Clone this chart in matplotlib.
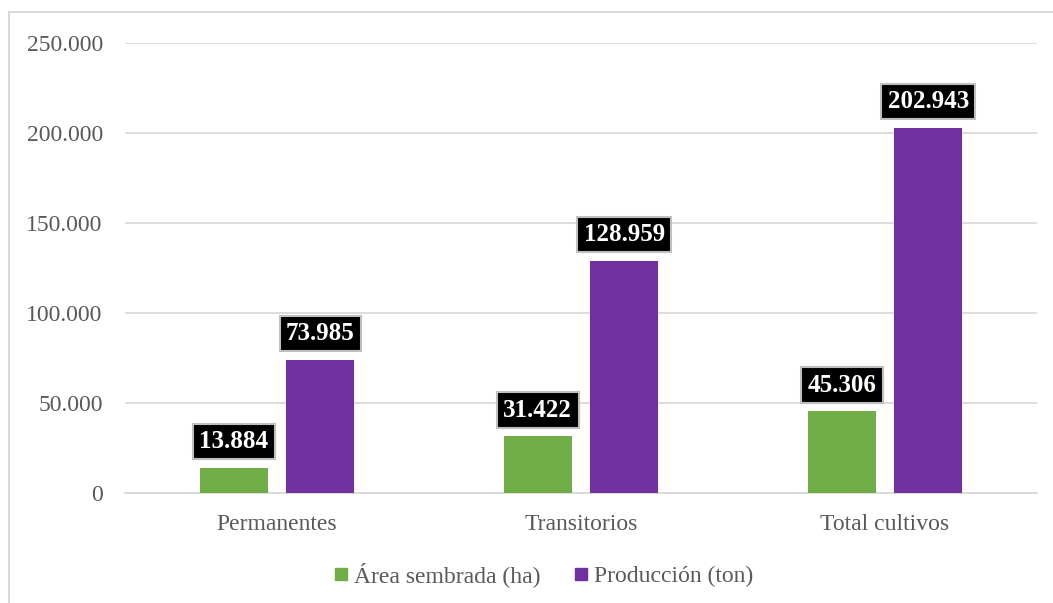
import numpy as np
import matplotlib.pyplot as plt
from matplotlib.lines import Line2D

# Data
categories = ['Permanentes', 'Transitorios', 'Total cultivos']
area = [13884, 31422, 45306]
produccion = [73985, 128959, 202943]
series_names = ['Área sembrada (ha)', 'Producción (ton)']
yticks = [0, 50000, 100000, 150000, 200000, 250000]

GREEN = '#70AD47'
PURPLE = '#7030A0'
TEXT = '#595959'
GRID = '#D9D9D9'

def fmt(v):
    return f'{v:,.0f}'.replace(',', '.')

plt.rcParams['font.family'] = ['Liberation Serif', 'DejaVu Serif']

fig = plt.figure(figsize=(10.53, 6.03), dpi=100)
ax = fig.add_axes([125/1053, 110/603, 912/1053, 450/603])

x = np.arange(len(categories))
w = 0.224
off = 0.142
b1 = ax.bar(x - off, area, w, color=GREEN, label=series_names[0], zorder=3)
b2 = ax.bar(x + off, produccion, w, color=PURPLE, label=series_names[1], zorder=3)

ax.set_xlim(-0.5, 2.5)
ax.set_ylim(0, 250000)
ax.set_yticks(yticks)
ax.set_yticklabels([fmt(v) for v in yticks])
ax.set_xticks(x)
ax.set_xticklabels(categories)
ax.tick_params(axis='both', length=0, labelsize=17, colors=TEXT)
ax.tick_params(axis='y', pad=16)
ax.tick_params(axis='x', pad=15)
ax.grid(axis='y', color=GRID, linewidth=1.3, zorder=0)
for s in ['top', 'right', 'left']:
    ax.spines[s].set_visible(False)
ax.spines['bottom'].set_color(GRID)
ax.spines['bottom'].set_linewidth(1.3)

# Data labels
for bars, vals in [(b1, area), (b2, produccion)]:
    for rect, v in zip(bars, vals):
        ax.annotate(fmt(v), (rect.get_x() + rect.get_width() / 2, v),
                    xytext=(0, 19), textcoords='offset points',
                    ha='center', va='center', fontsize=18, fontweight='bold',
                    color='white', zorder=5,
                    bbox=dict(boxstyle='square,pad=0.25', facecolor='black',
                              edgecolor='#BFBFBF', linewidth=1.5))

# Legend
handles = [Line2D([], [], marker='s', linestyle='', markersize=8.5, color=GREEN),
           Line2D([], [], marker='s', linestyle='', markersize=8.5, color=PURPLE)]
leg = fig.legend(handles, series_names, loc='center', bbox_to_anchor=(541/1053, 1 - 575/603),
                 ncol=2, frameon=False, fontsize=17, handletextpad=0.05,
                 columnspacing=1.2, handlelength=1.0)
for t in leg.get_texts():
    t.set_color(TEXT)

# Outer chart border
fig.add_artist(Line2D([9/1053, 9/1053], [0, 1 - 12/603], transform=fig.transFigure,
                      color=GRID, linewidth=1.5))
fig.add_artist(Line2D([9/1053, 1052/1053], [1 - 12/603, 1 - 12/603], transform=fig.transFigure,
                      color=GRID, linewidth=1.5))

fig.savefig('out.png', dpi=100)
